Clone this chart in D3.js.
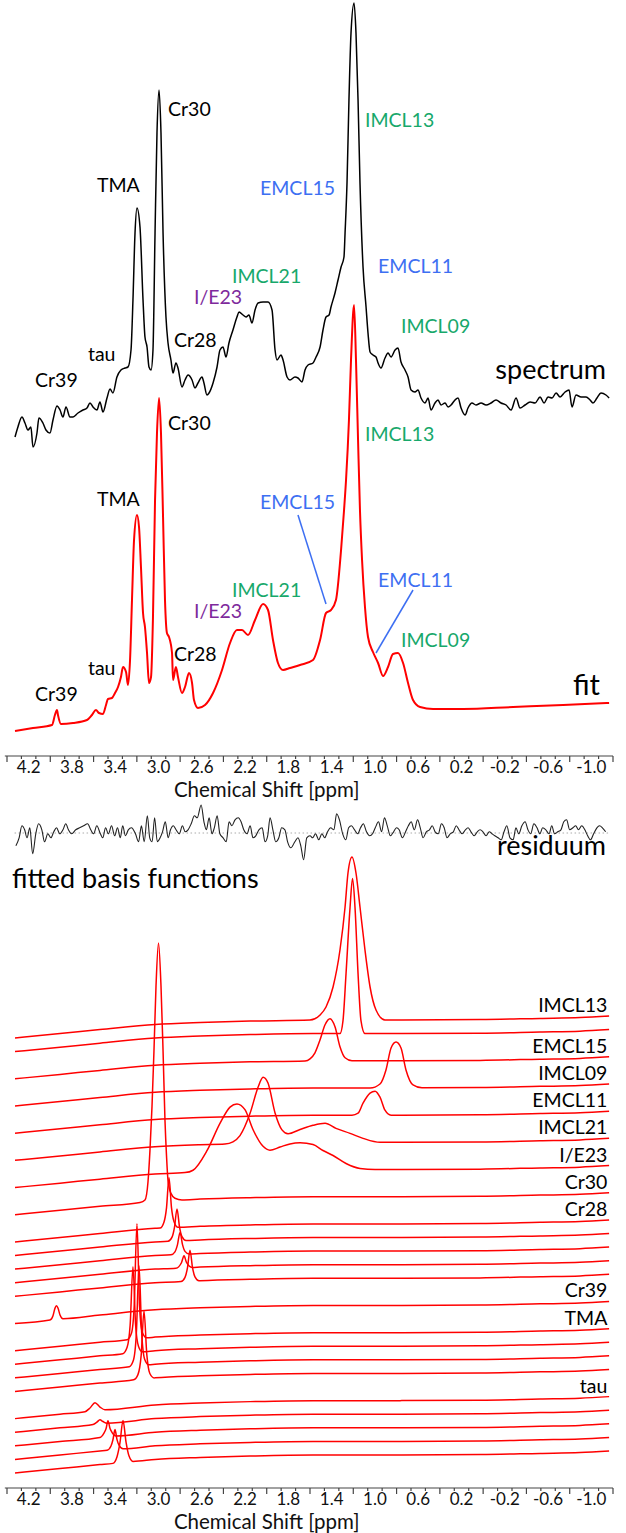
<!DOCTYPE html>
<html><head><meta charset="utf-8">
<script src="https://cdn.jsdelivr.net/npm/d3@7"></script>
<style>
body{margin:0;background:#fff}
svg{display:block}
text{font-family:Lato,"Open Sans",sans-serif}
</style>
</head><body>
<svg id="chart" width="626" height="1533"></svg>
<script>
// ---------------- DATA ----------------
const tickLabels = [4.2,3.8,3.4,3.0,2.6,2.2,1.8,1.4,1.0,0.6,0.2,-0.2,-0.6,-1.0];
const majorTicks = [4.4,4.0,3.6,3.2,2.8,2.4,2.0,1.6,1.2,0.8,0.4,0.0,-0.4,-0.8,-1.2];
const axisTitle = "Chemical Shift [ppm]";

// measured spectrum [ppm, a.u.]
const spectrum = [[4.326,-9.25],[4.299,-6.75],[4.262,-4.25],[4.234,-5.75],[4.206,-7.5],[4.179,-6.75],[4.160,-11.75],[4.123,-8.25],[4.105,-4.5],[4.068,-5.75],[4.040,-7.5],[4.003,-8.25],[3.975,-5],[3.938,-1.5],[3.910,-2.5],[3.883,-4.25],[3.855,-1.75],[3.818,-4.25],[3.790,-4.25],[3.744,-3.25],[3.698,-2.5],[3.661,-2],[3.633,-0.75],[3.605,-1.75],[3.569,-2.5],[3.541,-0.5],[3.513,-3],[3.476,0.5],[3.448,2.75],[3.421,1.75],[3.384,5.75],[3.347,7.5],[3.310,8],[3.282,8.25],[3.254,12.5],[3.236,25],[3.217,41.75],[3.199,48],[3.171,43.25],[3.143,25],[3.125,15.75],[3.106,13.25],[3.088,8.25],[3.069,7.5],[3.051,12.5],[3.032,41.75],[3.014,66.75],[2.995,77.5],[2.977,66.75],[2.958,41.75],[2.931,20.75],[2.912,14.25],[2.885,10],[2.866,6.75],[2.839,9.25],[2.820,8],[2.783,3.25],[2.755,5],[2.727,6.25],[2.690,5],[2.663,3],[2.635,4.25],[2.598,5.75],[2.580,4.25],[2.552,1.25],[2.533,1.75],[2.496,4.25],[2.459,8.25],[2.432,12.5],[2.404,13.25],[2.376,10.75],[2.349,14.25],[2.312,17.5],[2.275,20.75],[2.256,22],[2.219,21.25],[2.191,20.75],[2.164,21.25],[2.136,19.25],[2.108,22.5],[2.080,24.25],[2.034,24.5],[1.988,24.5],[1.951,22.5],[1.923,12.5],[1.905,10],[1.868,11.25],[1.849,10],[1.812,5.75],[1.785,5],[1.739,5.75],[1.711,5.5],[1.674,4.5],[1.646,7.5],[1.618,8.75],[1.572,9.25],[1.544,10.75],[1.507,13.25],[1.480,17.5],[1.452,20.75],[1.424,21.25],[1.406,23.25],[1.369,26.75],[1.341,30],[1.313,33.25],[1.286,35.75],[1.276,41.75],[1.258,54.25],[1.240,75],[1.221,91.75],[1.193,99.25],[1.175,91.75],[1.156,75],[1.138,54.25],[1.110,33.25],[1.082,23.25],[1.064,16.75],[1.045,12],[1.018,11.25],[0.990,10.75],[0.971,9.25],[0.944,8],[0.907,10.5],[0.879,11.75],[0.851,10.75],[0.814,12.5],[0.787,13],[0.759,9.5],[0.722,7.5],[0.694,5.75],[0.666,2.5],[0.630,2],[0.602,2.5],[0.574,0.5],[0.537,-0.75],[0.509,0.5],[0.482,-2.5],[0.445,-0.75],[0.417,0],[0.389,-1.25],[0.352,-0.75],[0.324,-1.75],[0.297,-1.25],[0.260,0],[0.232,0.5],[0.204,-2],[0.167,-3.75],[0.140,-2],[0.103,-0.75],[0.066,-1.25],[0.019,-0.75],[-0.027,-1.25],[-0.073,-0.75],[-0.119,0],[-0.165,-0.75],[-0.212,-1.25],[-0.258,-2.5],[-0.304,0.5],[-0.341,-2],[-0.387,-1.25],[-0.434,-0.5],[-0.480,-0.75],[-0.526,0.75],[-0.563,-0.75],[-0.600,0.75],[-0.637,0.5],[-0.674,1.75],[-0.711,0.75],[-0.757,2],[-0.794,2.5],[-0.821,-1.75],[-0.858,1.25],[-0.905,0.75],[-0.951,0.75],[-0.988,0],[-1.015,-0.75],[-1.052,0.5],[-1.089,1.75],[-1.135,1.25],[-1.164,0.5]];

// fitted model [ppm, a.u.]
const fit = [[4.326,-7],[4.160,-6.25],[3.984,-5.5],[3.957,-3],[3.938,-1.75],[3.929,-3],[3.901,-5.25],[3.790,-5],[3.661,-4.25],[3.615,-3],[3.578,-1.75],[3.550,-2.5],[3.513,-2.75],[3.485,-0.5],[3.467,1],[3.430,1.25],[3.402,2.5],[3.374,4],[3.347,6.5],[3.328,9],[3.300,7.75],[3.282,4.5],[3.263,10.75],[3.245,25.75],[3.226,40.75],[3.199,47],[3.180,44],[3.162,34],[3.143,22.5],[3.125,19],[3.106,12.5],[3.088,5],[3.069,6.5],[3.051,21.5],[3.032,50.75],[3.014,67.5],[2.995,76.25],[2.977,67.5],[2.958,46.5],[2.940,25.75],[2.922,17.5],[2.903,16.5],[2.875,12.5],[2.866,5.75],[2.839,9],[2.820,6.5],[2.783,2.5],[2.755,4],[2.718,7.5],[2.690,5],[2.672,0.75],[2.635,-1.25],[2.570,-0.5],[2.496,2.5],[2.413,8.25],[2.339,15],[2.275,18.25],[2.228,18.25],[2.173,17],[2.108,20.75],[2.034,24.75],[1.988,23.25],[1.942,15.75],[1.896,10],[1.849,8.25],[1.785,8.75],[1.692,9.5],[1.572,10.75],[1.507,15.75],[1.452,22.5],[1.406,23.25],[1.360,25.75],[1.313,38.25],[1.286,48],[1.267,55.75],[1.240,70.75],[1.221,85.75],[1.193,99.5],[1.175,85.75],[1.156,65.75],[1.138,48],[1.119,35.75],[1.092,24],[1.064,16.5],[1.018,12.75],[0.971,10],[0.925,6.75],[0.879,9],[0.833,12.25],[0.787,12.5],[0.740,10],[0.694,5],[0.648,0.75],[0.583,-1],[0.463,-1.5],[0.186,-1.5],[-0.277,-1],[-0.739,-0.5],[-1.164,0]];

// residual (spectrum - fit) [ppm, a.u.]
const residuum = [[4.318,-3.2],[4.288,-1.2],[4.262,1.8],[4.237,0.8],[4.215,-1.2],[4.189,1.3],[4.163,-5.2],[4.134,-0.2],[4.108,2.3],[4.078,0.8],[4.053,-2.2],[4.023,-0.2],[3.994,-1.2],[3.968,0.3],[3.942,1.3],[3.913,-0.2],[3.883,0.8],[3.857,2.3],[3.832,0.8],[3.802,-0.2],[3.765,0.8],[3.729,1.3],[3.692,1.8],[3.655,2.3],[3.626,0.8],[3.600,-0.2],[3.570,1.8],[3.537,-0.2],[3.515,-1.2],[3.489,1.3],[3.463,-0.2],[3.434,1.8],[3.405,-0.7],[3.379,1.3],[3.353,-1.2],[3.331,1.8],[3.305,-0.7],[3.279,0.8],[3.250,1.3],[3.213,-0.2],[3.184,-2.2],[3.158,1.8],[3.132,-2.2],[3.103,4.3],[3.081,-1.2],[3.059,-2.2],[3.036,3.8],[3.011,-2.2],[2.985,-1.2],[2.963,0.3],[2.937,2.8],[2.911,-1.2],[2.889,0.8],[2.863,1.8],[2.838,0.8],[2.808,-0.2],[2.779,1.8],[2.753,0.3],[2.727,0.8],[2.698,2.3],[2.668,4.3],[2.642,3.8],[2.606,7.0],[2.580,2.8],[2.558,0.8],[2.532,3.8],[2.506,-0.2],[2.484,1.3],[2.458,4.3],[2.433,-0.2],[2.403,-1.2],[2.374,-2.2],[2.348,2.8],[2.322,1.8],[2.293,3.3],[2.263,3.8],[2.237,2.8],[2.212,0.8],[2.182,-0.2],[2.153,1.8],[2.127,-1.2],[2.101,-0.7],[2.072,0.8],[2.042,1.3],[2.016,-2.2],[1.991,-0.7],[1.969,3.8],[1.943,0.8],[1.917,-2.2],[1.888,-1.2],[1.862,1.3],[1.832,0.8],[1.807,-2.2],[1.777,-3.7],[1.740,-2.2],[1.711,-1.2],[1.685,-3.2],[1.659,-6.7],[1.630,-1.2],[1.600,-0.7],[1.575,-1.2],[1.549,-0.2],[1.519,-1.7],[1.490,-0.2],[1.464,-1.2],[1.438,0.3],[1.409,1.3],[1.379,0.8],[1.354,4.8],[1.328,3.3],[1.298,-0.2],[1.269,-1.7],[1.243,1.3],[1.217,1.8],[1.188,0.8],[1.159,-0.2],[1.133,1.3],[1.107,2.3],[1.078,0.3],[1.048,-0.7],[1.022,-0.2],[0.997,1.3],[0.967,2.8],[0.938,0.3],[0.912,3.8],[0.886,1.8],[0.857,-0.7],[0.827,0.3],[0.801,1.3],[0.776,0.8],[0.746,-1.2],[0.717,0.3],[0.691,1.8],[0.665,2.8],[0.636,0.8],[0.606,3.3],[0.581,1.3],[0.555,-1.2],[0.525,0.3],[0.496,0.8],[0.470,1.8],[0.444,0.3],[0.415,-0.2],[0.385,2.3],[0.360,1.3],[0.334,-1.2],[0.304,-0.2],[0.275,0.3],[0.249,1.8],[0.223,0.8],[0.194,-0.2],[0.164,0.8],[0.139,1.3],[0.113,0.3],[0.083,-0.7],[0.054,0.3],[0.028,0.8],[0.002,0.3],[-0.027,-0.7],[-0.057,0.3],[-0.082,-0.2],[-0.108,-0.7],[-0.138,-1.2],[-0.167,-1.7],[-0.193,0.3],[-0.219,1.8],[-0.248,-1.2],[-0.277,-1.7],[-0.303,1.3],[-0.329,-0.2],[-0.358,1.8],[-0.388,2.8],[-0.414,0.8],[-0.439,-0.2],[-0.469,2.3],[-0.498,1.3],[-0.524,-0.2],[-0.550,1.3],[-0.579,0.8],[-0.609,-0.2],[-0.634,1.8],[-0.660,-0.2],[-0.690,0.3],[-0.719,0.8],[-0.745,2.8],[-0.771,3.3],[-0.800,0.8],[-0.830,1.3],[-0.855,1.8],[-0.881,0.8],[-0.911,1.8],[-0.940,0.8],[-0.966,-0.7],[-0.992,-1.7],[-1.021,-0.2],[-1.051,1.3],[-1.076,1.8],[-1.102,1.3],[-1.132,0.3]];

// common baseline of the basis-function traces [ppm, a.u.]
const basisBaseline = [[4.326,-5.5],[3.910,-4.4],[3.541,-3.4],[3.032,-2.1],[2.616,-1.6],[2.154,-1.25],[1.572,-1],[0.768,-1],[0.029,-0.9],[-0.526,-0.6],[-0.895,-0.4],[-1.164,0]];

// peaks of the fitted basis functions [ppm, height a.u.]; slot = row in the stack
const basisFunctions = [
 {name:"IMCL13", slot:0, peak:[[1.600,0],[1.507,1.25],[1.452,3.25],[1.387,8.25],[1.323,17.5],[1.276,28.25],[1.249,36.75],[1.212,40.75],[1.175,36.75],[1.138,28.25],[1.092,17.5],[1.045,8.25],[0.990,2.5],[0.907,0]]},
 {name:"IMCL13b", slot:1, peak:[[1.323,0],[1.295,3.25],[1.267,15],[1.230,31.5],[1.207,38.75],[1.184,31.5],[1.156,15],[1.129,3.25],[1.092,0]]},
 {name:"EMCL15", slot:3, peak:[[1.646,0],[1.600,0.5],[1.554,2],[1.507,5.25],[1.461,9],[1.415,10.5],[1.369,8.5],[1.323,3.5],[1.276,0.75],[1.212,0]]},
 {name:"IMCL09", slot:5, peak:[[1.045,0],[0.953,1],[0.898,4.5],[0.851,10],[0.805,11.5],[0.759,10],[0.713,4.5],[0.648,0.75],[0.565,0]]},
 {name:"EMCL11", slot:7, peak:[[1.212,0],[1.156,0.5],[1.110,3],[1.045,5.5],[0.999,6],[0.953,4.5],[0.907,1.25],[0.851,0]]},
 {name:"IMCL21", slot:9, peak:[[2.386,0],[2.312,0.5],[2.247,2],[2.154,7.5],[2.080,14],[2.034,16.5],[1.988,15],[1.923,7.5],[1.859,3.25],[1.803,2.25],[1.692,3.25],[1.572,4.25],[1.461,4.75],[1.360,3.5],[1.230,2.25],[1.110,1],[0.953,0]]},
 {name:"I/E23", slot:11, peak:[[2.755,0],[2.681,0.5],[2.552,5.25],[2.432,12],[2.339,16],[2.275,16.75],[2.201,15.25],[2.127,10.25],[2.034,6],[1.970,5],[1.877,5.75],[1.785,6.5],[1.692,6.75],[1.572,6.25],[1.480,4.75],[1.387,3.5],[1.267,1.5],[1.138,0.25],[0.999,0]]},
 {name:"Cr30", slot:13, peak:[[3.171,0],[3.125,0.5],[3.097,5],[3.079,12.75],[3.060,23.75],[3.042,37.5],[3.023,53.75],[3.000,64.5],[2.977,53.75],[2.958,37.5],[2.940,20],[2.926,11.25],[2.912,5],[2.885,1.75],[2.848,0.5],[2.783,0]]},
 {name:"Cr28", slot:15, peak:[[2.986,0],[2.949,1.5],[2.926,5],[2.903,12.5],[2.880,5],[2.857,1.5],[2.820,0]]},
 {name:"Cr28b", slot:16, peak:[[2.912,0],[2.875,1],[2.852,3.5],[2.829,8],[2.806,3.5],[2.783,1],[2.746,0]]},
 {name:"Cr28c", slot:17, peak:[[2.885,0],[2.848,0.7],[2.825,2.4],[2.801,5.5],[2.778,2.4],[2.755,0.7],[2.718,0]]},
 {name:"Cr28d", slot:18, peak:[[2.839,0],[2.788,1.3],[2.764,3],[2.741,1.3],[2.690,0]]},
 {name:"Cr28e", slot:19, peak:[[2.792,0],[2.755,1],[2.732,3.4],[2.709,7.75],[2.686,3.4],[2.663,1],[2.626,0]]},
 {name:"Cr39", slot:21, peak:[[4.003,0],[3.975,1],[3.957,2.8],[3.943,3.4],[3.929,2.8],[3.910,1],[3.883,0]]},
 {name:"TMA", slot:23, peak:[[3.290,0],[3.250,1.5],[3.225,8],[3.199,28.75],[3.175,8],[3.150,1.5],[3.110,0]]},
 {name:"TMAb", slot:24, peak:[[3.330,0],[3.290,1.5],[3.262,7],[3.236,21.5],[3.212,7],[3.185,1.5],[3.150,0]]},
 {name:"TMAc", slot:25, peak:[[3.270,0],[3.232,1.5],[3.205,8],[3.180,25],[3.155,8],[3.128,1.5],[3.090,0]]},
 {name:"TMAd", slot:26, peak:[[3.230,0],[3.190,1.2],[3.160,6],[3.134,17],[3.108,6],[3.080,1.2],[3.040,0]]},
 {name:"tau", slot:28, peak:[[3.679,0],[3.633,0.8],[3.587,2],[3.541,0.8],[3.495,0]]},
 {name:"taub", slot:29, peak:[[3.605,0],[3.569,0.5],[3.541,1],[3.513,0.5],[3.476,0]]},
 {name:"tauc", slot:30, peak:[[3.541,0],[3.504,1],[3.485,2],[3.467,4],[3.448,2],[3.430,1],[3.393,0]]},
 {name:"taud", slot:31, peak:[[3.476,0],[3.439,1],[3.421,2.5],[3.402,5],[3.384,2.5],[3.365,1],[3.328,0]]},
 {name:"taue", slot:32, peak:[[3.421,0],[3.384,1.5],[3.356,5],[3.328,10.5],[3.300,5],[3.273,1.5],[3.236,0]]}
];

// annotations of the top panels (label, anchor ppm, level in a.u., colour key)
const peakLabels = [
 {t:"Cr30", ppm:2.912, lvl:68.25, c:"black"},
 {t:"IMCL13", ppm:1.092, lvl:65.5, c:"green"},
 {t:"TMA", ppm:3.569, lvl:49.25, c:"black"},
 {t:"EMCL15", ppm:2.062, lvl:48.5, c:"blue"},
 {t:"EMCL11", ppm:0.971, lvl:29, c:"blue"},
 {t:"IMCL21", ppm:2.321, lvl:26.5, c:"green"},
 {t:"I/E23", ppm:2.672, lvl:21.25, c:"purple"},
 {t:"IMCL09", ppm:0.759, lvl:14, c:"green"},
 {t:"Cr28", ppm:2.857, lvl:10.5, c:"black"},
 {t:"tau", ppm:3.652, lvl:7, c:"black"},
 {t:"Cr39", ppm:4.141, lvl:0.5, c:"black"}
];
const fitCallouts = [
 {from:[1.711,47], to:[1.452,24.75]},
 {from:[0.648,28.25], to:[0.990,12.5]}
];
const basisLabels = [
 {t:"IMCL13", slot:0},{t:"EMCL15", slot:3},{t:"IMCL09", slot:5},{t:"EMCL11", slot:7},
 {t:"IMCL21", slot:9},{t:"I/E23", slot:11},{t:"Cr30", slot:13},{t:"Cr28", slot:15},
 {t:"Cr39", slot:21},{t:"TMA", slot:23},{t:"tau", slot:28}
];

// ---------------- LAYOUT / STYLE ----------------
const colors = {black:"#000000", green:"#17a86b", blue:"#3d6ff2", purple:"#7e2a9c", red:"#ff0000"};
const svg = d3.select("#chart");
const x = d3.scaleLinear().domain([4.4, -1.2]).range([7, 613]);
const yTop = d3.scaleLinear().domain([0, 100]).range([703, 303]);
const specOffset = 75.75, specLabelOffset = 78.6;
const yRes = d3.scaleLinear().domain([-10, 10]).range([873, 793]);
const slotY = d3.scaleLinear().domain([0, 32]).range([1016, 1451]);
const basisUnit = d3.scaleLinear().domain([0, 10]).range([0, -40]);

const mkLine = yf => d3.line().x(d => x(d[0])).y(d => yf(d[1])).curve(d3.curveMonotoneX);

// spectrum
svg.append("path").datum(spectrum).attr("fill","none").attr("stroke","#000").attr("stroke-width",1.5)
  .attr("stroke-linejoin","round").attr("d", mkLine(v => yTop(v + specOffset)));
// fit
svg.append("path").datum(fit).attr("fill","none").attr("stroke",colors.red).attr("stroke-width",2)
  .attr("stroke-linejoin","round").attr("d", mkLine(v => yTop(v)));

// peak labels
const lblG = svg.append("g").attr("font-size", 19.5);
peakLabels.forEach(l => {
  lblG.append("text").attr("x", x(l.ppm)).attr("y", yTop(l.lvl + specLabelOffset)).attr("fill", colors[l.c]).text(l.t);
  lblG.append("text").attr("x", x(l.ppm)).attr("y", yTop(l.lvl)).attr("fill", colors[l.c]).text(l.t);
});
fitCallouts.forEach(c => {
  svg.append("line").attr("x1", x(c.from[0])).attr("y1", yTop(c.from[1]))
    .attr("x2", x(c.to[0])).attr("y2", yTop(c.to[1])).attr("stroke", colors.blue).attr("stroke-width", 1.5);
});
svg.append("text").attr("x", x(-1.136)).attr("y", yTop(specOffset + 5.25)).attr("text-anchor","end")
  .attr("font-size", 27).text("spectrum");
svg.append("text").attr("x", x(-1.080)).attr("y", yTop(2)).attr("text-anchor","end")
  .attr("font-size", 29).text("fit");

// axes
function drawAxis(yPos){
  const g = svg.append("g");
  g.append("line").attr("x1", x(4.42)).attr("x2", x(-1.2)).attr("y1", yPos).attr("y2", yPos)
    .attr("stroke","#444").attr("stroke-width",1.2);
  const minor = [];
  for (let i = 0; i < majorTicks.length - 1; i++) {
    const a = majorTicks[i], b = majorTicks[i+1];
    minor.push(a + (b - a) / 3, a + 2 * (b - a) / 3);
  }
  g.selectAll(".mj").data(majorTicks).join("line").attr("x1", d => x(d)).attr("x2", d => x(d))
    .attr("y1", yPos).attr("y2", yPos + 6).attr("stroke","#444").attr("stroke-width",1.2);
  g.selectAll(".mn").data(minor).join("line").attr("x1", d => x(d)).attr("x2", d => x(d))
    .attr("y1", yPos).attr("y2", yPos + 3).attr("stroke","#444").attr("stroke-width",1.2);
  g.selectAll(".tl").data(tickLabels).join("text").attr("x", d => x(d)).attr("y", yPos + 17)
    .attr("text-anchor","middle").attr("font-size",17).attr("fill","#111").text(d => d.toFixed(1));
  g.append("text").attr("x", x(2.0)).attr("y", yPos + 41).attr("text-anchor","middle")
    .attr("font-size",20.5).attr("fill","#111").text(axisTitle);
}
drawAxis(756);
drawAxis(1488);

// residuum
svg.append("line").attr("x1", x(4.33)).attr("x2", x(-1.165)).attr("y1", yRes(0)).attr("y2", yRes(0))
  .attr("stroke","#aaa").attr("stroke-width",1).attr("stroke-dasharray","1.5,2.5");
svg.append("path").datum(residuum).attr("fill","none").attr("stroke","#222").attr("stroke-width",1.1)
  .attr("d", mkLine(yRes));
svg.append("text").attr("x", x(-1.136)).attr("y", 855).attr("text-anchor","end")
  .attr("font-size", 27).text("residuum");
svg.append("text").attr("x", 12).attr("y", 888).attr("font-size", 27).text("fitted basis functions");

// basis functions
const baseInterp = d3.scaleLinear().domain(basisBaseline.map(d => d[0])).range(basisBaseline.map(d => d[1]));
function traceData(peak){
  const hi = peak[0][0], lo = peak[peak.length-1][0];
  const base = basisBaseline.filter(d => d[0] > hi || d[0] < lo);
  const pk = peak.map(d => [d[0], baseInterp(d[0]) + d[1]]);
  return base.concat(pk).sort((a, b) => b[0] - a[0]);
}
const bG = svg.append("g");
basisFunctions.forEach(bf => {
  bG.append("path").datum(traceData(bf.peak)).attr("fill","none").attr("stroke",colors.red)
    .attr("stroke-width",1.5).attr("d", mkLine(v => slotY(bf.slot) + basisUnit(v)));
});
basisLabels.forEach(l => {
  bG.append("text").attr("x", x(-1.148)).attr("y", slotY(l.slot) - 4).attr("text-anchor","end")
    .attr("font-size", 19.5).text(l.t);
});
</script>
</body></html>
